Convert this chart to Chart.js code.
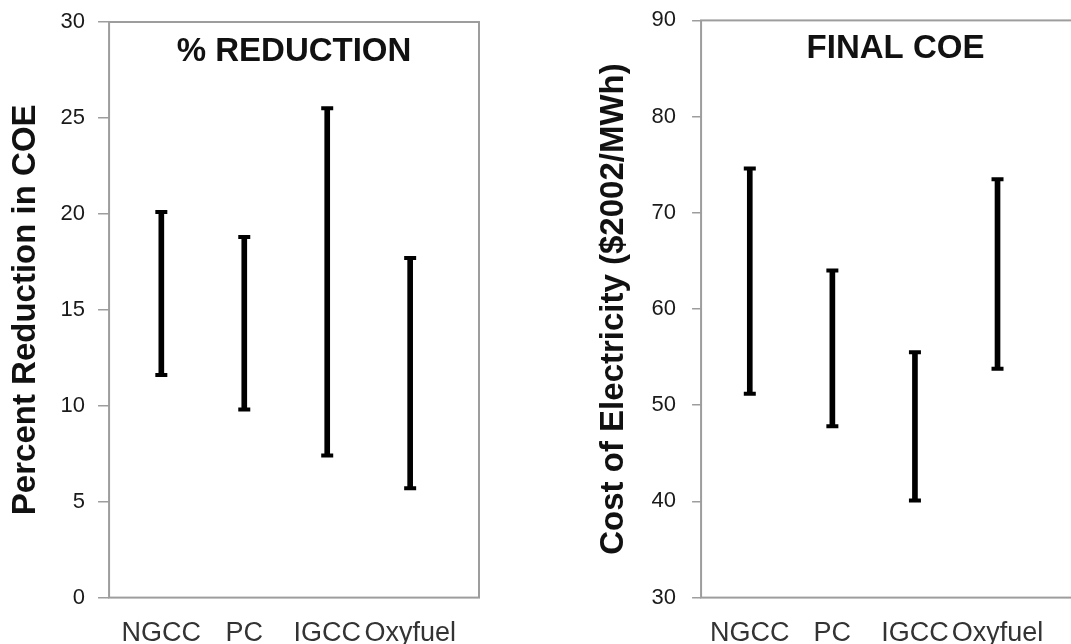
<!DOCTYPE html>
<html>
<head>
<meta charset="utf-8">
<script src="https://cdn.jsdelivr.net/npm/chart.js@4.4.1/dist/chart.umd.min.js"></script>
<style>
    html, body { margin: 0; padding: 0; overflow: hidden; background: #fff; }
    #leftBox { position: absolute; left: 0; top: 0; }
    #rightBox { position: absolute; left: 540px; top: 0; }
</style>
</head>
<body>
<div id="leftBox"><canvas id="reductionChart" width="540" height="644"></canvas></div>
<div id="rightBox"><canvas id="coeChart" width="560" height="644"></canvas></div>
<script>
// categories
var plants = ['NGCC', 'PC', 'IGCC', 'Oxyfuel'];

// % reduction in COE (low / high end of each range)
var reductionLow = [11.6, 9.8, 7.4, 5.7];
var reductionHigh = [20.1, 18.8, 25.5, 17.7];

// final COE, $2002/MWh
var coeLow = [51.2, 47.8, 40.1, 53.8];
var coeHigh = [74.6, 64.0, 55.5, 73.5];

// tick labels of the two value axes
var reductionTicks = [0, 5, 10, 15, 20, 25, 30];
var coeTicks = [30, 40, 50, 60, 70, 80, 90];

var FONT = '"Liberation Sans", Arial, Helvetica, sans-serif';

// draws the box around the plot and the title inside it
var framePlugin = {
    id: 'frame',
    beforeDatasetsDraw: function (chart) {
        var a = chart.chartArea;
        var ctx = chart.ctx;
        ctx.save();
        ctx.strokeStyle = '#9d9d9d';
        ctx.lineWidth = 2;
        ctx.strokeRect(a.left, a.top, a.right - a.left, a.bottom - a.top);
        ctx.restore();
    },
    afterDraw: function (chart, args, opts) {
        var a = chart.chartArea;
        var ctx = chart.ctx;
        ctx.save();
        ctx.fillStyle = '#111';
        ctx.font = 'bold 33px ' + FONT;
        ctx.textAlign = 'center';
        ctx.textBaseline = 'middle';
        ctx.fillText(opts.text, (a.left + a.right) / 2, a.top + opts.offset);
        ctx.restore();
    }
};

function makeRangeChart(id, low, high, ticks, cfg) {
    var bars = plants.map(function (p, i) { return { x: i, y: [low[i], high[i]] }; });
    var caps = [];
    plants.forEach(function (p, i) {
        caps.push({ x: i, y: low[i] });
        caps.push({ x: i, y: high[i] });
    });

    var ctx = document.getElementById(id).getContext('2d');
    return new Chart(ctx, {
        type: 'bar',
        data: {
            datasets: [{
                label: 'range',
                data: bars,
                backgroundColor: '#000',
                borderWidth: 0,
                barThickness: 5,
                order: 2
            }, {
                type: 'scatter',
                label: 'ends',
                data: caps,
                pointStyle: 'line',
                radius: 6,
                borderColor: '#000',
                borderWidth: 4,
                order: 1
            }]
        },
        options: {
            responsive: false,
            animation: false,
            layout: { padding: cfg.padding },
            plugins: {
                legend: { display: false },
                tooltip: { enabled: false },
                frame: { text: cfg.title, offset: cfg.titleOffset }
            },
            scales: {
                x: {
                    type: 'linear',
                    offset: false,
                    min: cfg.xMin,
                    max: cfg.xMax,
                    grid: { display: false },
                    border: { display: false },
                    afterBuildTicks: function (axis) {
                        axis.ticks = plants.map(function (p, i) { return { value: i }; });
                    },
                    ticks: {
                        autoSkip: false,
                        padding: 12,
                        color: '#333',
                        font: { family: FONT, size: 27 },
                        maxRotation: 0,
                        callback: function (value) { return plants[value]; }
                    }
                },
                y: {
                    min: ticks[0],
                    max: ticks[ticks.length - 1],
                    afterBuildTicks: function (axis) {
                        axis.ticks = ticks.map(function (v) { return { value: v }; });
                    },
                    grid: {
                        drawOnChartArea: false,
                        tickLength: cfg.tickLength,
                        color: '#9d9d9d',
                        lineWidth: 1.5
                    },
                    border: { display: false },
                    ticks: {
                        padding: cfg.tickPadding,
                        color: '#1a1a1a',
                        // small lineHeight so the top label does not push the plot down
                        font: { family: FONT, size: 22, lineHeight: 0.4 }
                    },
                    title: {
                        display: true,
                        text: cfg.yTitle,
                        color: '#111',
                        font: { family: FONT, size: 33, weight: 'bold' },
                        padding: cfg.titlePadding
                    }
                }
            }
        },
        plugins: [framePlugin]
    });
}

makeRangeChart('reductionChart', reductionLow, reductionHigh, reductionTicks, {
    title: '% REDUCTION',
    titleOffset: 30,
    yTitle: 'Percent Reduction in COE',
    padding: { left: 0, right: 61, top: 22, bottom: -18 },
    titlePadding: { top: 6, bottom: 2 },
    tickLength: 11,
    tickPadding: 13,
    xMin: -0.63,
    xMax: 3.83
});

makeRangeChart('coeChart', coeLow, coeHigh, coeTicks, {
    title: 'FINAL COE',
    titleOffset: 29,
    yTitle: 'Cost of Electricity ($2002/MWh)',
    padding: { left: 40, right: 4, top: 20, bottom: -18 },
    titlePadding: { top: 14, bottom: 2 },
    tickLength: 9,
    tickPadding: 16,
    xMin: -0.59,
    xMax: 4.12
});
</script>
</body>
</html>
